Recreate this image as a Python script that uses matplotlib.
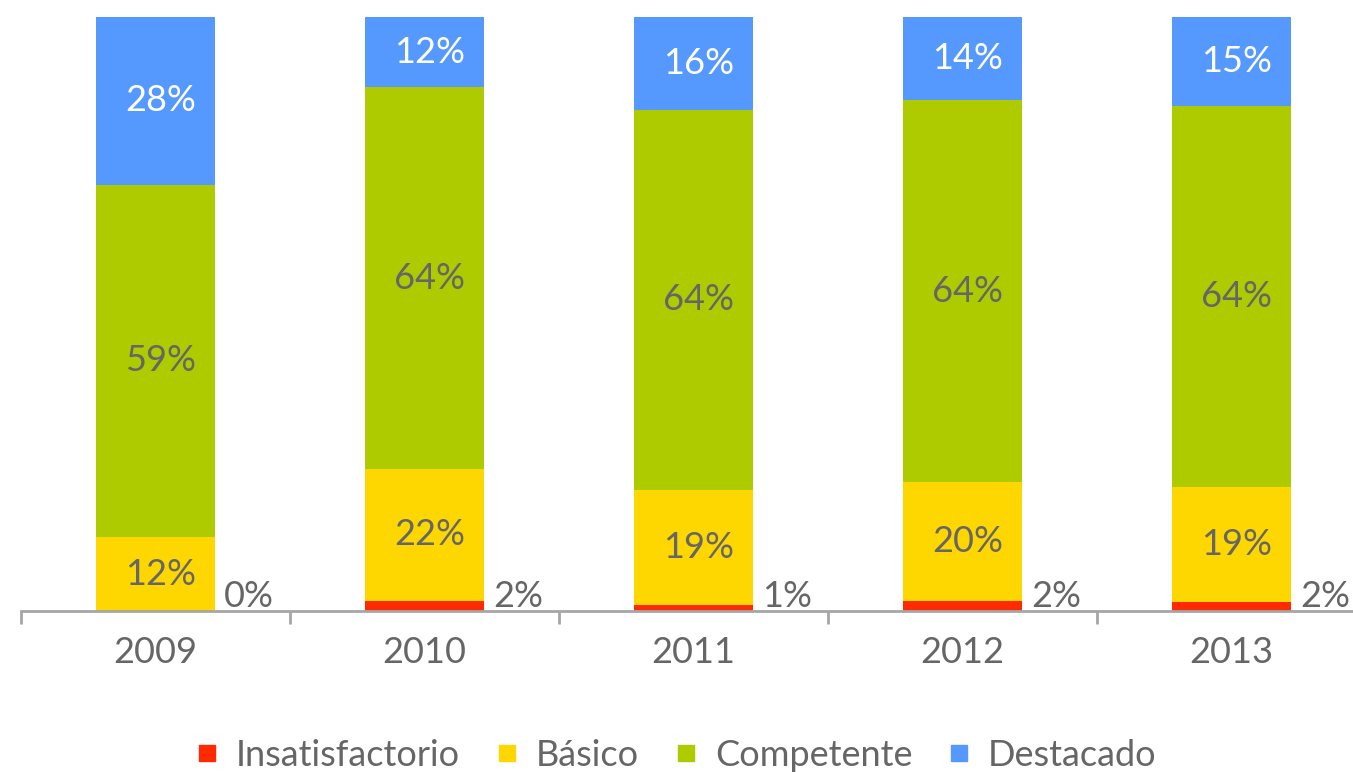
import matplotlib
matplotlib.use("Agg")
import matplotlib.pyplot as plt
from matplotlib.lines import Line2D

years = ["2009", "2010", "2011", "2012", "2013"]
series = ["Insatisfactorio", "Básico", "Competente", "Destacado"]
insatisfactorio = [0.0, 1.7, 1.0, 1.7, 1.5]
basico = [12.4, 22.2, 19.4, 20.0, 19.4]
competente = [59.4, 64.3, 64.0, 64.3, 64.2]
destacado = [28.2, 11.8, 15.6, 14.0, 14.9]
colors = ["#FF2A00", "#FFD700", "#AECB00", "#5599FF"]
label_colors = ["#666666", "#666666", "#666666", "#FFFFFF"]

plt.rcParams['font.family'] = ['Lato', 'DejaVu Sans']
fig = plt.figure(figsize=(13.53, 7.72), dpi=100)
ax = fig.add_axes([21/1353, 161/772, 1345/1353, 594/772])

data = [insatisfactorio, basico, competente, destacado]
x = list(range(len(years)))
width = 0.44
bottom = [0.0] * len(years)
for vals, col, lc in zip(data, colors, label_colors):
    ax.bar(x, vals, width, bottom=bottom, color=col, linewidth=0)
    if vals is insatisfactorio:
        for xi, v in zip(x, vals):
            ax.text(xi + width / 2 + 0.035, 2.5, f"{round(v)}%", ha="left", va="center",
                    fontsize=26, color="#666666")
    else:
        for xi, v, b in zip(x, vals, bottom):
            ax.text(xi + 0.02, b + v / 2, f"{round(v)}%", ha="center", va="center",
                    fontsize=26, color=lc)
    bottom = [b + v for b, v in zip(bottom, vals)]

ax.set_xlim(-0.5, 4.5)
ax.set_ylim(0, 100)
for s in ["top", "right", "left"]:
    ax.spines[s].set_visible(False)
ax.spines["bottom"].set_color("#A6A6A6")
ax.spines["bottom"].set_linewidth(2)
ax.set_yticks([])
ax.set_xticks([i - 0.5 for i in range(len(years) + 1)])
ax.set_xticklabels([])
ax.set_xticks(x, minor=True)
ax.set_xticklabels(years, minor=True, fontsize=26, color="#666666")
ax.tick_params(axis="x", which="major", length=9, width=2, color="#A6A6A6", direction="out")
ax.tick_params(axis="x", which="minor", length=0, pad=18)

handles = [Line2D([], [], marker="s", linestyle="none", markersize=11,
                  markerfacecolor=c, markeredgecolor=c) for c in colors]
fig.legend(handles, series, loc="center", bbox_to_anchor=(0.5, 1 - 755/772),
           ncol=4, frameon=False, fontsize=26, labelcolor="#666666",
           handlelength=0.6, handletextpad=0.5, columnspacing=1.0)

fig.savefig("out.png", dpi=100)
